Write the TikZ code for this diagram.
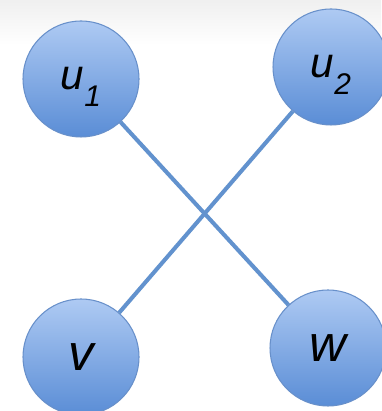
\documentclass[tikz,border=0pt]{standalone}
\usepackage{fontspec}
\setmainfont{Liberation Sans}
\definecolor{vtop}{RGB}{174,202,243}
\definecolor{vbot}{RGB}{90,141,214}
\definecolor{vedge}{RGB}{104,144,202}
\definecolor{edgeblue}{RGB}{98,146,206}
\newcommand{\vsub}[2]{#1\raisebox{-9.5pt}[0pt][0pt]{\fontsize{17}{17}\selectfont #2}}
\begin{document}
\begin{tikzpicture}[
x=0.02cm, y=0.02cm,
vertex/.style={circle,draw=vedge,line width=0.6pt,top color=vtop,bottom color=vbot,
	minimum size=2.32cm,inner sep=0pt},
small/.style={font=\fontsize{24}{26}\selectfont\itshape},
big/.style={font=\fontsize{29}{31}\selectfont\itshape},
edge/.style={draw=edgeblue,line width=2.3pt}
]
\useasboundingbox (0,0) rectangle (381,411);
\fill[white] (0,0) rectangle (381,411);
\shade[top color=black!6,bottom color=white] (0,366) rectangle (381,411);
\node[vertex,small] (u1) at (81,332) {\vsub{u}{1}};
\node[vertex,small] (u2) at (331,344) {\vsub{u}{2}};
\node[vertex,big] (v) at (81,54) {v};
\node[vertex,big] (w) at (328,63) {w};
\draw[edge] (u1) -- (w);
\draw[edge] (u2) -- (v);
\end{tikzpicture}
\end{document}
